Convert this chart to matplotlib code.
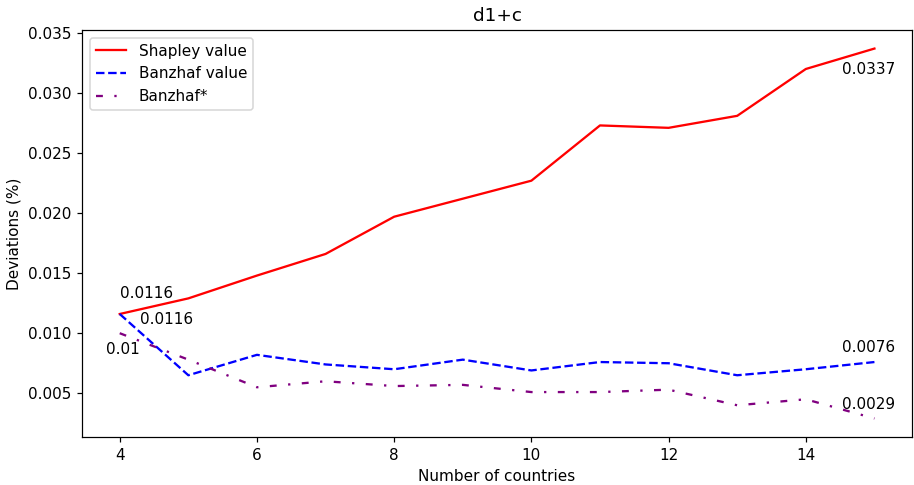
import numpy as np
import matplotlib
matplotlib.use('Agg')
import matplotlib.pyplot as plt

# deviations per number of countries, d1+c
countries = [4, 5, 6, 7, 8, 9, 10, 11, 12, 13, 14, 15]
shapley = [0.0116, 0.0129, 0.0148, 0.0166, 0.0197, 0.0212, 0.0227, 0.0273, 0.0271, 0.0281, 0.0320, 0.0337]
banzhaf = [0.0116, 0.0065, 0.0082, 0.0074, 0.0070, 0.0078, 0.0069, 0.0076, 0.0075, 0.0065, 0.0070, 0.0076]
banzhaf_star = [0.0100, 0.0078, 0.0055, 0.0060, 0.0056, 0.0057, 0.0051, 0.0051, 0.0053, 0.0040, 0.0045, 0.0029]

fig = plt.figure(figsize=(914 / 110, 485 / 110), dpi=110)
ax = fig.add_subplot(111)
fig.subplots_adjust(left=0.0897, right=0.998, top=0.938, bottom=0.099)

ax.plot(countries, shapley, color='red', linestyle='-', label='Shapley value')
ax.plot(countries, banzhaf, color='blue', linestyle='--', label='Banzhaf value')
ax.plot(countries, banzhaf_star, color='purple', linestyle=(0, (3, 5, 1, 5)), label='Banzhaf*')

# value labels at start and end points
ax.text(countries[0], shapley[0] + 0.0013, '%.4f' % shapley[0])
ax.text(countries[0] + 0.3, banzhaf[0] - 0.0008, '%.4f' % banzhaf[0])
ax.text(countries[0] - 0.2, banzhaf_star[0] - 0.0017, '%g' % banzhaf_star[0])
ax.text(countries[-1] - 0.47, shapley[-1] - 0.0021, '%.4f' % shapley[-1])
ax.text(countries[-1] - 0.47, banzhaf[-1] + 0.0008, '%.4f' % banzhaf[-1])
ax.text(countries[-1] - 0.47, banzhaf_star[-1] + 0.0008, '%.4f' % banzhaf_star[-1])

ax.set_title('d1+c')
ax.set_xlabel('Number of countries')
ax.set_ylabel('Deviations (%)')
ax.legend(loc='upper left')

plt.savefig('out.png')
